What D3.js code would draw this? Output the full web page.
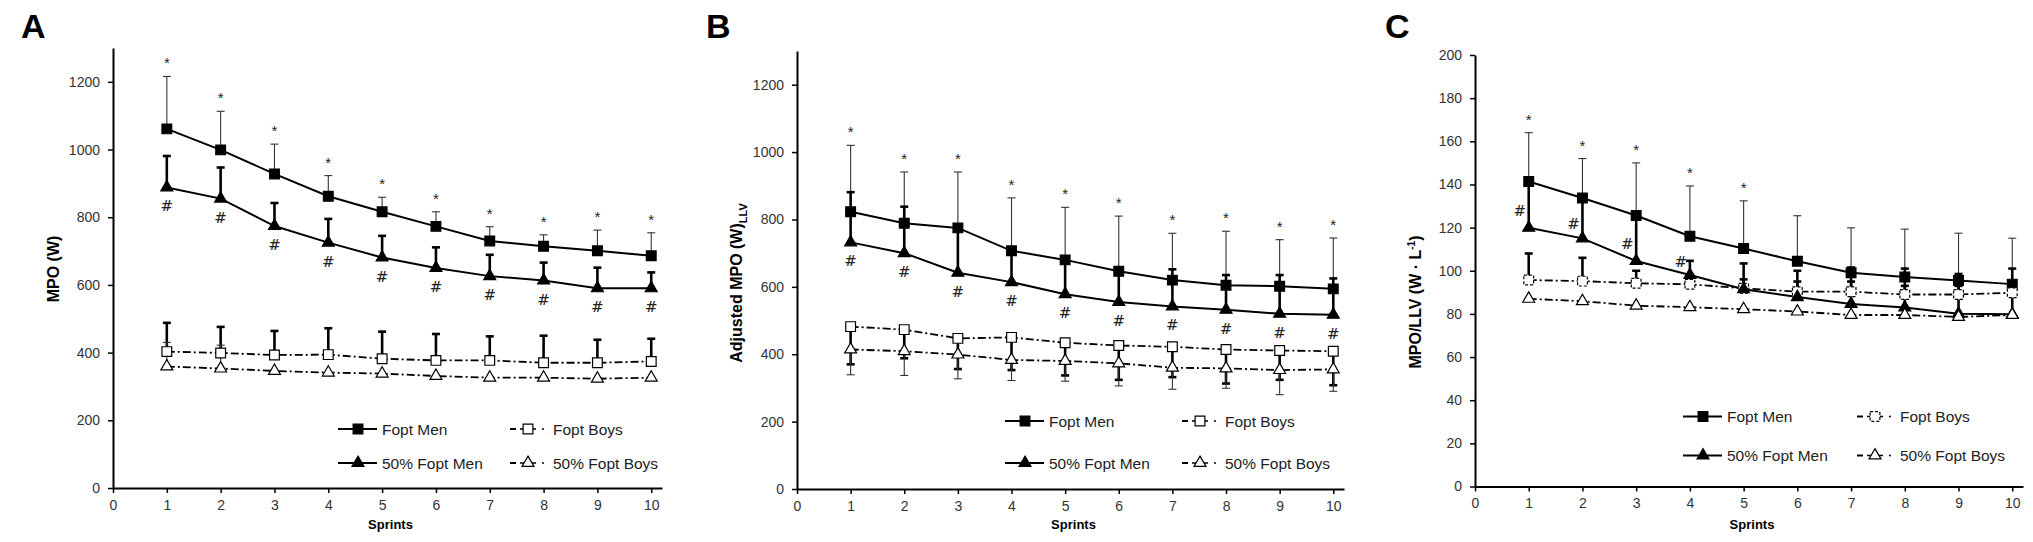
<!DOCTYPE html>
<html>
<head>
<meta charset="utf-8">
<script src="https://d3js.org/d3.v7.min.js"></script>
<style>
  body { margin: 0; background: #fff; }
  svg { font-family: "Liberation Sans", Arial, sans-serif; }
  .tick text { fill: #333; font-size: 14px; }
</style>
</head>
<body>
<div id="chart"></div>
<script>
// ---- data ----
const sprints = [1, 2, 3, 4, 5, 6, 7, 8, 9, 10];
const xTicks = [0, 1, 2, 3, 4, 5, 6, 7, 8, 9, 10];
const ticksW = [0, 200, 400, 600, 800, 1000, 1200];
const ticksRel = [0, 20, 40, 60, 80, 100, 120, 140, 160, 180, 200];
const seriesNames = ["Fopt Men", "Fopt Boys", "50% Fopt Men", "50% Fopt Boys"];

// A: MPO (W)  -- error arrays hold the end value of each bar
const mpoMen        = [1061, 999, 928, 862, 816, 773, 730, 714, 701, 686];
const mpoMenErr     = [1216, 1113, 1016, 923, 859, 816, 772, 748, 762, 754];
const mpo50Men      = [888, 855, 774, 725, 681, 650, 626, 613, 590, 590];
const mpo50MenErr   = [981, 947, 842, 795, 745, 711, 689, 666, 651, 637];
const mpoBoys       = [403, 399, 393, 394, 382, 377, 377, 370, 370, 374];
const mpoBoysErr    = [488, 476, 464, 472, 462, 455, 448, 450, 438, 441];
const mpo50Boys     = [359, 353, 346, 341, 338, 331, 326, 326, 323, 326];
const mpo50BoysErr  = [430, 422, null, null, null, null, null, null, null, null];

// B: adjusted MPO (W)LLV
const adjMen        = [823, 789, 775, 707, 680, 646, 620, 605, 602, 594];
const adjMenErr     = [1020, 941, 941, 864, 836, 810, 759, 765, 740, 745];
const adj50Men      = [732, 700, 642, 614, 578, 555, 542, 532, 520, 517];
const adj50MenErr   = [881, 838, 770, 715, 680, 650, 652, 635, 635, 625];
const adjBoys       = [482, 473, 447, 450, 434, 426, 422, 414, 411, 409];
const adjBoysErr    = [370, 388, 356, 353, 337, 324, 332, 313, 324, 308];
const adj50Boys     = [414, 409, 399, 383, 380, 373, 360, 358, 353, 355];
const adj50BoysErr  = [339, 337, 327, 322, 320, 306, 296, 299, 280, 290];

// C: MPO/LLV (W.L-1)
const relMen        = [141.4, 133.7, 125.6, 116.0, 110.3, 104.4, 99.1, 97.1, 95.5, 93.8];
const relMenErr     = [164, 152, 150, 139.3, 132.4, 125.5, 119.9, 119.3, 117.4, 115.1];
const rel50Men      = [119.9, 115, 104.5, 98, 91.4, 87.8, 84.6, 83, 80.1, 79.8];
const rel50MenErr   = [140, 133, 125, 104.6, 103.4, 100, 101.5, 101, 98.5, 101];
const relBoys       = [95.7, 95.2, 94.2, 93.7, 91.9, 90.3, 90.3, 89, 89, 89.8];
const relBoysErr    = [108, 106, 100, 98, 96, 95, 95, 93, 93, 93];
const rel50Boys     = [87, 85.9, 83.8, 83.1, 82.2, 81.1, 79.5, 79.5, 78.6, 79.5];
const rel50BoysErr  = [null, null, null, null, null, null, null, null, null, null];

// significance markers (sprint numbers)
const starsA = [1, 2, 3, 4, 5, 6, 7, 8, 9, 10], hashA = [1, 2, 3, 4, 5, 6, 7, 8, 9, 10];
const starsB = [1, 2, 3, 4, 5, 6, 7, 8, 9, 10], hashB = [1, 2, 3, 4, 5, 6, 7, 8, 9, 10];
const starsC = [1, 2, 3, 4, 5], hashC = [1, 2, 3, 4];

// ---- drawing ----
const W = 2033, H = 542;
const svg = d3.select("#chart").append("svg").attr("width", W).attr("height", H);

const styles = {
  men:    {shape: "square",   fill: "#000", dash: null,         err: "thin"},
  boys:   {shape: "square",   fill: "#fff", dash: "8,3,2,3",    err: "thick"},
  men50:  {shape: "triangle", fill: "#000", dash: null,         err: "thick"},
  boys50: {shape: "triangle", fill: "#fff", dash: "8,3,2,3",    err: "thin"}
};

function marker(sel, shape, fill, dashed) {
  const sym = shape == "square" ? d3.symbol().type(d3.symbolSquare).size(95)
                                : d3.symbol().type(d3.symbolTriangle).size(62);
  sel.attr("d", sym)
    .attr("fill", fill)
    .attr("stroke", "#000")
    .attr("stroke-width", 1.2)
    .attr("stroke-dasharray", dashed ? "3,2" : null);
}

function drawPanel(p) {
  const x = d3.scaleLinear().domain([0, 10.2]).range([p.x0, p.xr]);
  const y = d3.scaleLinear().domain([0, p.ymax]).range([p.y0, p.yt]);
  const g = svg.append("g");

  // letter
  g.append("text").attr("x", p.lx).attr("y", 38)
    .style("font-size", "34px").style("font-weight", "bold").text(p.letter);

  // x axis
  const xa = g.append("g").attr("transform", "translate(0," + p.y0 + ")")
    .call(d3.axisBottom(x).tickValues(xTicks).tickFormat(d3.format("d"))
      .tickSize(5).tickSizeOuter(0).tickPadding(7));
  // y axis
  const ya = g.append("g").attr("transform", "translate(" + p.x0 + ",0)")
    .call(d3.axisLeft(y).tickValues(p.ticks).tickFormat(d3.format("d"))
      .tickSize(5).tickSizeOuter(0).tickPadding(8));
  [xa, ya].forEach(a => {
    a.select(".domain").attr("stroke", "#000").attr("stroke-width", 2);
    a.selectAll(".tick line").attr("stroke", "#000").attr("stroke-width", 1.5);
  });

  // axis titles
  g.append("text").attr("x", (p.x0 + p.xr) / 2 + 3).attr("y", 529)
    .attr("text-anchor", "middle").style("font-size", "13px").style("font-weight", "bold")
    .text("Sprints");
  const yl = g.append("text")
    .attr("transform", "translate(" + p.ylx + "," + p.yly + ") rotate(-90)")
    .attr("text-anchor", "middle").style("font-size", "16px").style("font-weight", "bold");
  p.ylabel(yl);

  // error bars
  p.series.forEach(s => {
    const st = styles[s.key];
    const thick = st.err == "thick";
    s.vals.forEach((v, i) => {
      const e = s.err[i];
      if (e == null) return;
      const cx = x(sprints[i]);
      g.append("line").attr("x1", cx).attr("x2", cx).attr("y1", y(v)).attr("y2", y(e))
        .attr("stroke", thick ? "#000" : "#333").attr("stroke-width", thick ? 2.6 : 1.1);
      g.append("line").attr("x1", cx - 4).attr("x2", cx + 4).attr("y1", y(e)).attr("y2", y(e))
        .attr("stroke", thick ? "#000" : "#333").attr("stroke-width", thick ? 2.6 : 1.1);
    });
  });

  // lines
  const line = d3.line().x((d, i) => x(sprints[i])).y(d => y(d));
  p.series.forEach(s => {
    const st = styles[s.key];
    g.append("path").datum(s.vals).attr("d", line)
      .attr("fill", "none").attr("stroke", "#000")
      .attr("stroke-width", st.dash ? 1.8 : 2)
      .attr("stroke-dasharray", st.dash);
  });

  // markers
  p.series.forEach(s => {
    const st = styles[s.key];
    g.selectAll(null).data(s.vals).enter().append("path")
      .attr("transform", (d, i) => "translate(" + x(sprints[i]) + "," + y(d) + ")")
      .call(marker, st.shape, st.fill, p.dashedBoys && s.key == "boys");
  });

  // significance
  const men = p.series[0], men50 = p.series[2];
  g.selectAll(null).data(p.stars).enter().append("text")
    .attr("x", d => x(d)).attr("y", d => y(men.err[d - 1]) - 8)
    .attr("text-anchor", "middle").style("font-size", "15px").attr("fill", "#222").text("*");
  g.selectAll(null).data(p.hash).enter().append("text")
    .attr("x", d => p.hashSide ? x(d) - 9 : x(d))
    .attr("y", d => p.hashSide ? (y(men.vals[d - 1]) + y(men50.vals[d - 1])) / 2 + 11
                               : y(men50.vals[d - 1]) + 24)
    .attr("text-anchor", "middle").style("font-size", "15px")
    .style("font-family", "'DejaVu Serif', serif").attr("fill", "#222").text("#");

  // legend
  const L = p.legend;
  const items = [
    {key: "men",    name: seriesNames[0], col: 0, row: 0},
    {key: "boys",   name: seriesNames[1], col: 1, row: 0},
    {key: "men50",  name: seriesNames[2], col: 0, row: 1},
    {key: "boys50", name: seriesNames[3], col: 1, row: 1}
  ];
  items.forEach(it => {
    const st = styles[it.key];
    const yy = L.rows[it.row];
    if (it.col == 0) {
      const x1 = L.c0;
      g.append("line").attr("x1", x1).attr("x2", x1 + 39).attr("y1", yy).attr("y2", yy)
        .attr("stroke", "#000").attr("stroke-width", 2);
      g.append("path").attr("transform", "translate(" + (x1 + 20) + "," + yy + ")")
        .call(marker, st.shape, st.fill, false);
      g.append("text").attr("x", x1 + 44).attr("y", yy + 5.5).style("font-size", "15.5px")
        .attr("fill", "#222").text(it.name);
    } else {
      const x1 = L.c1;
      g.append("line").attr("x1", x1).attr("x2", x1 + 6).attr("y1", yy).attr("y2", yy)
        .attr("stroke", "#000").attr("stroke-width", 2);
      g.append("line").attr("x1", x1 + 10).attr("x2", x1 + 26).attr("y1", yy).attr("y2", yy)
        .attr("stroke", "#000").attr("stroke-width", 1.5);
      g.append("path").attr("transform", "translate(" + (x1 + 18) + "," + yy + ")")
        .call(marker, st.shape, st.fill, p.dashedBoys && it.key == "boys");
      g.append("circle").attr("cx", x1 + 33).attr("cy", yy).attr("r", 1).attr("fill", "#000");
      g.append("text").attr("x", x1 + 43).attr("y", yy + 5.5).style("font-size", "15.5px")
        .attr("fill", "#222").text(it.name);
    }
  });
}

drawPanel({
  letter: "A", lx: 21, x0: 113, xr: 662, y0: 488, yt: 48, ymax: 1300, ticks: ticksW,
  ylx: 59, yly: 269,
  ylabel: t => t.text("MPO (W)"),
  series: [
    {key: "men", vals: mpoMen, err: mpoMenErr},
    {key: "boys", vals: mpoBoys, err: mpoBoysErr},
    {key: "men50", vals: mpo50Men, err: mpo50MenErr},
    {key: "boys50", vals: mpo50Boys, err: mpo50BoysErr}
  ],
  stars: starsA, hash: hashA, hashSide: false, dashedBoys: false,
  legend: {rows: [429, 463], c0: 338, c1: 510}
});

drawPanel({
  letter: "B", lx: 706, x0: 797, xr: 1344, y0: 489, yt: 51, ymax: 1300, ticks: ticksW,
  ylx: 742, yly: 283,
  ylabel: t => { t.text("Adjusted MPO (W)");
    t.append("tspan").attr("dy", 5).style("font-size", "11px").text("LLV"); },
  series: [
    {key: "men", vals: adjMen, err: adjMenErr},
    {key: "boys", vals: adjBoys, err: adjBoysErr},
    {key: "men50", vals: adj50Men, err: adj50MenErr},
    {key: "boys50", vals: adj50Boys, err: adj50BoysErr}
  ],
  stars: starsB, hash: hashB, hashSide: false, dashedBoys: false,
  legend: {rows: [421, 463], c0: 1005, c1: 1182}
});

drawPanel({
  letter: "C", lx: 1385, x0: 1475, xr: 2023, y0: 486.5, yt: 55, ymax: 200, ticks: ticksRel,
  ylx: 1421, yly: 302,
  ylabel: t => { t.text("MPO/LLV (W \u00b7 L");
    t.append("tspan").attr("dy", -6).style("font-size", "10px").text("-1");
    t.append("tspan").attr("dy", 6).text(")"); },
  series: [
    {key: "men", vals: relMen, err: relMenErr},
    {key: "boys", vals: relBoys, err: relBoysErr},
    {key: "men50", vals: rel50Men, err: rel50MenErr},
    {key: "boys50", vals: rel50Boys, err: rel50BoysErr}
  ],
  stars: starsC, hash: hashC, hashSide: true, dashedBoys: true,
  legend: {rows: [416.5, 455.5], c0: 1683, c1: 1857}
});
</script>
</body>
</html>
